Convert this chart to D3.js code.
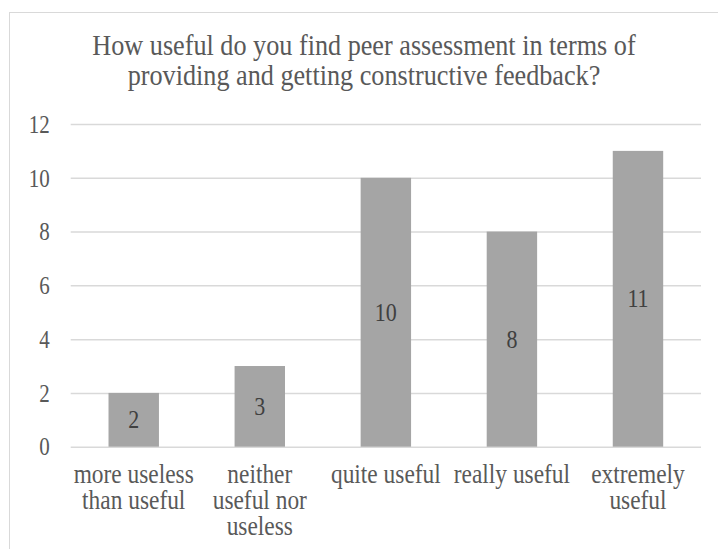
<!DOCTYPE html>
<html>
<head>
<meta charset="utf-8">
<script src="https://cdn.jsdelivr.net/npm/d3@7"></script>
<style>
  html, body { margin: 0; padding: 0; background: #fff; }
  svg { display: block; }
  text { font-family: "Liberation Serif", "Times New Roman", serif; }
</style>
</head>
<body>
<svg id="chart" width="718" height="549"></svg>
<script>
// Survey responses: how useful peer assessment is for feedback
const titleLines = [
  "How useful do you find peer assessment in terms of",
  "providing and getting constructive feedback?"
];
const categories = [
  "more useless\nthan useful",
  "neither\nuseful nor\nuseless",
  "quite useful",
  "really useful",
  "extremely\nuseful"
];
const counts = [2, 3, 10, 8, 11];
const yTicks = [0, 2, 4, 6, 8, 10, 12];

// glyphs are drawn slightly tall (vertical stretch)
const STRETCH = 1.15;
const FONT = "Liberation Serif, Times New Roman, serif";

const svg = d3.select("#chart");

// chart frame
svg.append("rect")
  .attr("x", 9.5).attr("y", 12.5)
  .attr("width", 760).attr("height", 600)
  .attr("fill", "#fff")
  .attr("stroke", "#d9d9d9").attr("stroke-width", 1);

const plot = { left: 70.7, right: 701, top: 124, bottom: 446.7 };

const x = d3.scaleBand()
  .domain(categories)
  .range([plot.left, plot.right])
  .paddingInner(0.6)
  .paddingOuter(0.3);

const y = d3.scaleLinear()
  .domain([0, 12])
  .range([plot.bottom, plot.top]);

// helper: a stretched text line anchored at (px, py)
function stretchedText(parent, px, py, str, size, fill) {
  return parent.append("g")
    .attr("transform", `translate(${px},${py}) scale(1,${STRETCH})`)
    .append("text")
    .attr("text-anchor", "middle")
    .attr("font-size", size)
    .attr("fill", fill)
    .text(str);
}

// title
const gt = svg.append("g");
titleLines.forEach((line, i) => {
  stretchedText(gt, 364, 55 + i * 30, line, 26.2, "#595959");
});

// horizontal gridlines + value labels
const yAxis = d3.axisLeft(y)
  .tickValues(yTicks)
  .tickSize(-(plot.right - plot.left))
  .tickPadding(21);

const gy = svg.append("g")
  .attr("transform", `translate(${plot.left},0)`)
  .call(yAxis);
gy.select(".domain").remove();
gy.selectAll(".tick line")
  .attr("stroke", "#d9d9d9")
  .attr("stroke-width", 1.5);
gy.selectAll(".tick text")
  .attr("font-family", FONT)
  .attr("font-size", 21)
  .attr("fill", "#595959")
  .attr("dy", "0.34em")
  .attr("transform", `scale(1,${STRETCH})`);

// bars
svg.append("g").selectAll("rect")
  .data(counts)
  .join("rect")
  .attr("x", (d, i) => x(categories[i]))
  .attr("y", d => y(d))
  .attr("width", x.bandwidth())
  .attr("height", d => y(0) - y(d))
  .attr("fill", "#a5a5a5");

// data labels centered in bars
const gl = svg.append("g");
counts.forEach((d, i) => {
  stretchedText(gl, x(categories[i]) + x.bandwidth() / 2, (y(d) + y(0)) / 2, d, 22, "#404040")
    .attr("dy", "0.34em");
});

// category labels on the x axis
const gx = svg.append("g");
categories.forEach(c => {
  c.split("\n").forEach((line, j) => {
    stretchedText(gx, x(c) + x.bandwidth() / 2, 482.5 + j * 26, line, 23.4, "#595959");
  });
});
</script>
</body>
</html>
